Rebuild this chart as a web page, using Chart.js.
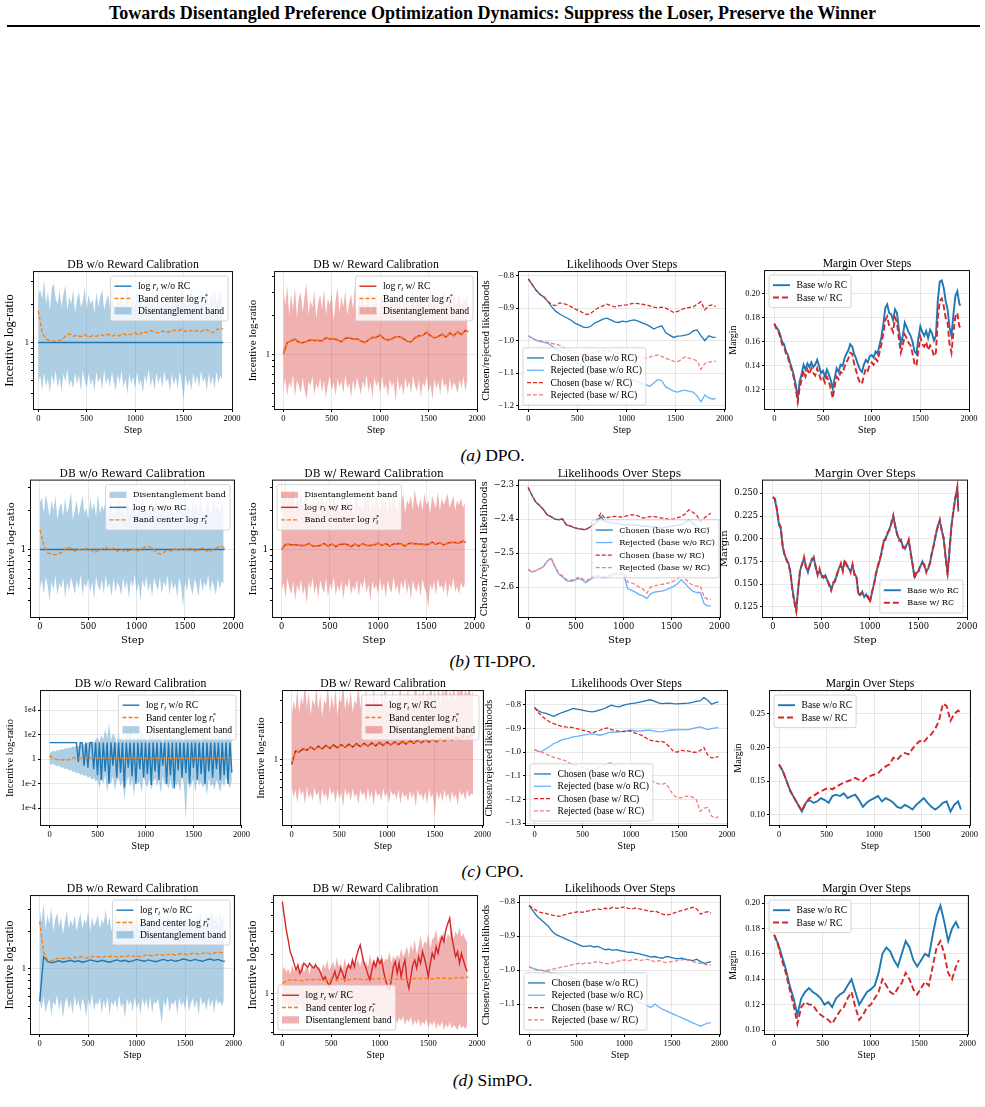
<!DOCTYPE html>
<html>
<head>
<meta charset="utf-8">
<title>Preference optimization dynamics</title>
<script src="https://cdn.jsdelivr.net/npm/chart.js@4.4.1/dist/chart.umd.min.js"></script>
<style>
  html, body { margin: 0; padding: 0; background: #fff; }
  body { position: relative; width: 985px; height: 1107px; overflow: hidden; font-family: "Liberation Serif", "Times New Roman", serif; color: #000; }
  #head { position: absolute; left: 0; top: 2px; width: 985px; text-align: center; font-weight: bold; font-size: 18px; line-height: 22px; }
  #rule { position: absolute; left: 7px; top: 25px; width: 973px; height: 2px; background: #000; }
  .cap { position: absolute; left: 0; width: 985px; text-align: center; font-size: 17.5px; line-height: 20px; }
</style>
</head>
<body>
<div id="head">Towards Disentangled Preference Optimization Dynamics: Suppress the Loser, Preserve the Winner</div>
<div id="rule"></div>
<div class="cap" style="top:445px"><i>(a)</i> DPO.</div>
<div class="cap" style="top:651px"><i>(b)</i> TI-DPO.</div>
<div class="cap" style="top:861px"><i>(c)</i> CPO.</div>
<div class="cap" style="top:1070px"><i>(d)</i> SimPO.</div>
<script>
// ---- step grids and ticks ----
const steps20 = Array.from({ length: 96 }, (_, i) => i * 20);
const steps20e = steps20.concat([1910]);
const steps40 = Array.from({ length: 48 }, (_, i) => i * 40).concat([1910]);
const flatSteps = [0, 1910];
const stepTicks = [0, 500, 1000, 1500, 2000];
const bandTicks = [0.3, 0.4, 0.5, 0.6, 0.7, 0.8, 0.9, 1, 2, 3, 4, 5];
const cpoTicks = [1e-4, 1e-2, 1, 1e2, 1e4];
const cpoTickLabels = ['1e-4', '1e-2', '1', '1e2', '1e4'];

// ---- (a) DPO ----
const a1Up = [2.4,2.6,2.2,3.1,2.0,2.5,1.8,2.7,2.9,2.2, 2.0,2.6,1.9,2.4,2.8,1.8,2.3,2.0,2.6,1.7, 2.2,2.5,1.9,2.1,2.7,1.8,2.4,2.0,2.2,1.7, 2.5,1.9,2.3,2.6,1.8,2.1,2.4,1.9,2.7,2.0, 1.8,2.3,2.0,2.5,1.9,2.2,2.8,1.8,2.1,2.4, 1.9,2.6,2.0,2.2,1.8,2.5,2.0,2.3,1.9,2.6, 2.1,1.8,2.4,2.0,2.7,1.9,2.2,2.5,1.8,2.1, 2.6,2.0,2.3,1.9,2.8,2.1,2.4,1.9,2.2,2.7, 2.0,2.5,1.9,2.3,2.6,2.0,2.2,2.8,1.9,2.4, 2.1,2.6,2.0,2.3,2.5,2.2];
const a1Lo = [0.48,0.55,0.42,0.58,0.45,0.52,0.40,0.56,0.47,0.60, 0.44,0.53,0.41,0.57,0.49,0.62,0.45,0.51,0.43,0.58, 0.47,0.55,0.42,0.60,0.50,0.44,0.57,0.46,0.52,0.41, 0.59,0.48,0.54,0.43,0.61,0.47,0.53,0.45,0.58,0.49, 0.42,0.56,0.48,0.60,0.44,0.52,0.39,0.57,0.47,0.54, 0.43,0.59,0.46,0.51,0.40,0.56,0.48,0.62,0.45,0.53, 0.42,0.58,0.47,0.55,0.44,0.60,0.49,0.52,0.41,0.57, 0.46,0.54,0.43,0.59,0.48,0.35,0.56,0.45,0.52,0.42, 0.58,0.47,0.55,0.44,0.60,0.49,0.53,0.42,0.57,0.46, 0.54,0.43,0.59,0.48,0.55,0.50];
const a1Ctr = [1.78,1.20,1.06,1.04,1.02,1.03,1.05,1.12,1.17,1.12,1.14,1.11,1.15,1.10,1.13,1.12,1.15,1.13,1.16,1.12,1.15,1.13,1.17,1.14,1.16,1.19,1.14,1.22,1.20,1.24,1.21,1.19,1.23,1.20,1.22,1.25,1.23,1.27,1.22,1.25,1.21,1.24,1.22,1.27,1.24,1.19,1.26,1.29,1.28];
const a1Line = [1, 1];
const a2Up = [3.2,2.4,3.4,2.0,2.9,2.2,3.3,1.9,2.7,3.0, 2.1,2.8,3.5,2.0,2.6,2.3,3.1,1.9,2.5,2.9, 2.2,3.2,2.0,2.7,2.4,3.0,1.8,2.6,3.3,2.1, 2.8,2.3,3.1,2.0,2.5,2.9,2.2,3.4,1.9,2.7, 2.4,3.0,2.1,2.6,3.2,2.0,2.8,2.3,3.1,1.9, 2.6,2.9,2.2,3.3,2.0,2.5,3.0,2.1,2.7,2.4, 3.2,1.9,2.8,2.3,3.0,2.1,2.6,3.4,2.0,2.7, 2.4,3.1,2.2,2.9,2.0,2.6,3.3,2.1,2.8,2.3, 3.0,1.9,2.7,3.2,2.2,2.5,2.9,2.0,3.1,2.4, 2.7,3.0,2.2,2.8,2.5,3.1];
const a2Lo = [0.52,0.66,0.48,0.61,0.55,0.70,0.47,0.63,0.58,0.50, 0.67,0.53,0.45,0.62,0.57,0.68,0.49,0.60,0.54,0.66, 0.51,0.63,0.46,0.59,0.68,0.53,0.61,0.48,0.65,0.56, 0.62,0.50,0.69,0.55,0.60,0.47,0.64,0.52,0.67,0.58, 0.49,0.63,0.55,0.70,0.51,0.61,0.46,0.66,0.57,0.62, 0.50,0.68,0.54,0.59,0.47,0.65,0.56,0.61,0.43,0.67, 0.53,0.60,0.48,0.66,0.55,0.62,0.50,0.69,0.57,0.52, 0.64,0.47,0.61,0.56,0.68,0.51,0.59,0.45,0.65,0.54, 0.62,0.49,0.67,0.56,0.60,0.48,0.66,0.53,0.61,0.57, 0.50,0.64,0.55,0.68,0.52,0.63];
const a2Ctr = [1.02,1.22,1.28,1.30,1.25,1.22,1.25,1.30,1.27,1.29,1.26,1.35,1.30,1.33,1.28,1.26,1.32,1.35,1.30,1.33,1.26,1.22,1.30,1.34,1.36,1.40,1.33,1.28,1.32,1.36,1.38,1.31,1.27,1.24,1.35,1.38,1.41,1.47,1.40,1.33,1.38,1.42,1.37,1.45,1.40,1.48,1.43,1.52,1.50];
const a2Line = [1.01,1.23,1.27,1.31,1.24,1.23,1.26,1.29,1.28,1.28,1.27,1.34,1.31,1.32,1.29,1.25,1.33,1.34,1.31,1.32,1.27,1.23,1.29,1.35,1.35,1.41,1.32,1.29,1.31,1.37,1.37,1.32,1.26,1.25,1.34,1.39,1.40,1.48,1.39,1.34,1.37,1.43,1.36,1.46,1.39,1.49,1.42,1.53,1.49];
const a3ChosenNoRC = [-0.810,-0.828,-0.845,-0.858,-0.866,-0.880,-0.896,-0.910,-0.918,-0.925,-0.931,-0.938,-0.947,-0.952,-0.958,-0.960,-0.955,-0.945,-0.940,-0.934,-0.931,-0.936,-0.942,-0.944,-0.940,-0.942,-0.938,-0.936,-0.940,-0.945,-0.950,-0.956,-0.964,-0.958,-0.954,-0.975,-0.983,-0.990,-0.986,-0.985,-0.983,-0.980,-0.970,-0.967,-0.985,-1.000,-0.985,-0.990,-0.990];
const a3RejectedNoRC = [-0.985,-0.992,-0.999,-1.003,-1.005,-1.008,-1.016,-1.027,-1.032,-1.038,-1.044,-1.055,-1.066,-1.072,-1.076,-1.080,-1.084,-1.088,-1.093,-1.100,-1.106,-1.110,-1.114,-1.115,-1.112,-1.111,-1.117,-1.124,-1.128,-1.132,-1.136,-1.140,-1.130,-1.119,-1.123,-1.142,-1.148,-1.155,-1.158,-1.154,-1.152,-1.156,-1.158,-1.170,-1.188,-1.167,-1.176,-1.180,-1.177];
const a3ChosenRC = [-0.810,-0.828,-0.845,-0.858,-0.866,-0.880,-0.889,-0.892,-0.884,-0.886,-0.890,-0.896,-0.903,-0.908,-0.915,-0.920,-0.915,-0.905,-0.898,-0.893,-0.888,-0.892,-0.896,-0.893,-0.891,-0.890,-0.887,-0.885,-0.886,-0.888,-0.890,-0.893,-0.897,-0.899,-0.897,-0.900,-0.906,-0.913,-0.910,-0.905,-0.900,-0.898,-0.896,-0.888,-0.880,-0.905,-0.892,-0.890,-0.895];
const a3RejectedRC = [-0.985,-0.992,-0.998,-1.000,-1.003,-1.005,-1.008,-1.011,-1.014,-1.021,-1.029,-1.033,-1.037,-1.040,-1.042,-1.044,-1.040,-1.036,-1.033,-1.031,-1.029,-1.033,-1.037,-1.040,-1.043,-1.044,-1.046,-1.049,-1.050,-1.052,-1.054,-1.050,-1.046,-1.044,-1.048,-1.054,-1.058,-1.063,-1.065,-1.058,-1.049,-1.054,-1.057,-1.062,-1.088,-1.070,-1.066,-1.064,-1.063];
const a4MarginNoRC = [0.175,0.172,0.170,0.166,0.160,0.158,0.152,0.149,0.143,0.138, 0.132,0.124,0.113,0.127,0.133,0.141,0.137,0.142,0.139,0.143, 0.139,0.141,0.145,0.140,0.134,0.136,0.131,0.137,0.133,0.128, 0.121,0.130,0.138,0.135,0.141,0.140,0.146,0.150,0.153,0.158, 0.156,0.150,0.146,0.141,0.137,0.135,0.141,0.145,0.143,0.148, 0.149,0.147,0.152,0.150,0.157,0.164,0.175,0.188,0.191,0.184, 0.183,0.178,0.187,0.184,0.170,0.158,0.165,0.176,0.172,0.168, 0.165,0.160,0.152,0.150,0.163,0.173,0.168,0.165,0.169,0.163, 0.170,0.167,0.161,0.165,0.195,0.210,0.211,0.205,0.194,0.187, 0.172,0.165,0.183,0.198,0.202,0.192,0.190];
const a4MarginRC = [0.175,0.171,0.169,0.164,0.158,0.156,0.150,0.147,0.141,0.136, 0.130,0.121,0.110,0.122,0.128,0.136,0.131,0.137,0.133,0.138, 0.134,0.132,0.138,0.133,0.128,0.130,0.126,0.131,0.127,0.121, 0.113,0.123,0.131,0.129,0.135,0.134,0.139,0.143,0.146,0.151, 0.150,0.142,0.136,0.130,0.126,0.125,0.132,0.138,0.136,0.141, 0.143,0.141,0.146,0.144,0.151,0.158,0.167,0.178,0.181,0.173, 0.172,0.168,0.180,0.176,0.162,0.151,0.157,0.166,0.163,0.159, 0.157,0.150,0.142,0.140,0.153,0.164,0.158,0.156,0.160,0.153, 0.157,0.154,0.148,0.151,0.180,0.194,0.196,0.190,0.180,0.176, 0.158,0.151,0.168,0.181,0.184,0.173,0.172];

// ---- (b) TI-DPO ----
const b1Up = [2.3,2.5,1.9,2.7,2.2,1.8,2.4,2.0,2.6,1.7, 2.1,2.3,1.8,2.5,1.9,2.2,2.8,1.7,2.0,2.4, 1.8,2.2,2.6,1.9,2.1,1.7,2.5,2.0,2.3,1.8, 2.7,1.9,2.2,2.0,2.4,1.8,2.1,2.5,1.7,2.3, 2.0,2.6,1.9,2.2,1.8,2.4,2.1,1.9,2.5,2.0, 1.8,2.3,2.1,2.7,1.9,2.2,2.0,2.4,1.8,2.1, 2.5,1.9,2.3,2.0,2.6,1.8,2.2,1.9,2.4,2.1, 1.8,2.3,2.0,2.5,1.9,2.8,2.1,2.2,1.8,2.4, 2.0,2.3,1.9,2.6,2.1,1.8,2.2,2.4,1.9,2.1, 2.5,2.0,2.2,1.9,2.3,2.1];
const b1Lo = [0.50,0.58,0.45,0.62,0.52,0.40,0.57,0.48,0.63,0.44, 0.55,0.50,0.60,0.42,0.56,0.47,0.61,0.53,0.45,0.58, 0.49,0.64,0.44,0.55,0.51,0.60,0.46,0.57,0.41,0.62, 0.52,0.48,0.59,0.45,0.63,0.50,0.55,0.43,0.60,0.47, 0.56,0.52,0.44,0.61,0.49,0.57,0.42,0.58,0.51,0.64, 0.46,0.55,0.40,0.59,0.50,0.62,0.47,0.56,0.43,0.60, 0.53,0.48,0.61,0.45,0.57,0.51,0.63,0.44,0.58,0.49, 0.55,0.42,0.60,0.52,0.36,0.57,0.47,0.62,0.50,0.45, 0.59,0.53,0.43,0.61,0.48,0.56,0.51,0.64,0.46,0.58, 0.52,0.44,0.60,0.49,0.57,0.54];
const b1Ctr = [1.42,1.08,0.94,0.92,0.91,0.93,0.96,1.05,1.02,0.97,1.00,0.98,1.02,0.99,0.95,0.97,1.01,1.04,0.99,1.02,0.97,1.00,0.96,0.98,1.01,0.97,0.99,1.04,1.06,1.03,0.96,0.92,0.95,0.99,0.97,1.01,0.98,1.03,0.99,1.02,0.97,1.00,1.03,0.98,0.96,1.01,1.04,1.06,1.02];
const b1Line = [1, 1];
const b2Up = [3.2,2.6,3.4,2.2,2.9,2.4,3.1,2.0,2.7,2.3, 2.8,2.1,2.5,3.0,1.9,2.4,2.2,2.7,2.0,2.5, 2.3,2.9,1.9,2.4,2.1,2.6,2.0,2.8,2.2,2.4, 1.9,2.6,2.3,2.0,2.7,2.2,2.5,1.9,2.4,2.8, 2.1,2.3,2.0,2.6,2.2,2.9,1.9,2.4,2.1,2.5, 2.3,2.0,2.7,2.2,2.4,1.9,2.6,2.1,2.8,2.3, 2.0,2.5,2.2,2.7,1.9,2.4,2.2,2.6,2.0,2.9, 2.3,2.1,2.5,2.0,2.7,2.2,2.4,1.9,2.6,2.3, 2.1,2.8,2.0,2.5,2.2,2.4,2.7,2.1,2.3,2.6, 2.0,2.4,2.2,2.5,2.1,2.3];
const b2Lo = [0.48,0.55,0.42,0.60,0.50,0.45,0.57,0.40,0.53,0.47, 0.59,0.44,0.52,0.38,0.56,0.49,0.61,0.45,0.54,0.42, 0.58,0.50,0.46,0.60,0.43,0.55,0.48,0.62,0.44,0.53, 0.47,0.57,0.41,0.55,0.50,0.60,0.45,0.52,0.48,0.58, 0.43,0.56,0.50,0.61,0.46,0.54,0.40,0.57,0.49,0.53, 0.45,0.60,0.47,0.55,0.42,0.58,0.50,0.46,0.62,0.48, 0.53,0.44,0.57,0.49,0.60,0.45,0.55,0.41,0.58,0.50, 0.47,0.56,0.43,0.59,0.51,0.46,0.35,0.54,0.48,0.57, 0.44,0.60,0.50,0.53,0.46,0.58,0.42,0.55,0.49,0.61, 0.47,0.52,0.45,0.56,0.50,0.54];
const b2Ctr = [1.00,1.08,1.10,1.07,1.09,1.06,1.08,1.10,1.07,1.05,1.08,1.10,1.07,1.09,1.06,1.08,1.11,1.08,1.06,1.09,1.07,1.10,1.08,1.06,1.09,1.11,1.08,1.10,1.07,1.09,1.12,1.09,1.07,1.10,1.12,1.09,1.11,1.08,1.10,1.13,1.10,1.12,1.09,1.11,1.14,1.12,1.13,1.15,1.14];
const b2Line = [1.00,1.09,1.09,1.08,1.08,1.07,1.07,1.11,1.06,1.06,1.07,1.11,1.06,1.10,1.05,1.09,1.10,1.09,1.05,1.10,1.06,1.11,1.07,1.07,1.08,1.12,1.07,1.11,1.06,1.10,1.11,1.10,1.06,1.11,1.11,1.10,1.10,1.09,1.09,1.14,1.09,1.13,1.08,1.12,1.13,1.13,1.12,1.16,1.13];
const b3ChosenNoRC = [-2.307,-2.330,-2.350,-2.360,-2.372,-2.388,-2.393,-2.400,-2.402,-2.400,-2.417,-2.420,-2.425,-2.428,-2.430,-2.431,-2.425,-2.418,-2.410,-2.393,-2.407,-2.409,-2.411,-2.413,-2.415,-2.417,-2.416,-2.418,-2.417,-2.419,-2.422,-2.421,-2.423,-2.422,-2.425,-2.427,-2.424,-2.422,-2.420,-2.418,-2.417,-2.410,-2.402,-2.412,-2.422,-2.431,-2.436,-2.428,-2.422];
const b3RejectedNoRC = [-2.548,-2.556,-2.552,-2.546,-2.540,-2.524,-2.516,-2.540,-2.562,-2.570,-2.582,-2.583,-2.581,-2.575,-2.578,-2.587,-2.580,-2.572,-2.568,-2.570,-2.573,-2.570,-2.566,-2.563,-2.562,-2.563,-2.605,-2.609,-2.615,-2.622,-2.626,-2.634,-2.620,-2.615,-2.613,-2.612,-2.608,-2.603,-2.598,-2.590,-2.578,-2.590,-2.602,-2.612,-2.616,-2.616,-2.650,-2.655,-2.655];
const b3ChosenRC = [-2.307,-2.330,-2.350,-2.360,-2.372,-2.388,-2.393,-2.400,-2.402,-2.400,-2.417,-2.420,-2.425,-2.428,-2.430,-2.431,-2.425,-2.416,-2.400,-2.383,-2.397,-2.395,-2.393,-2.392,-2.394,-2.393,-2.390,-2.388,-2.388,-2.392,-2.397,-2.395,-2.393,-2.393,-2.395,-2.397,-2.399,-2.402,-2.400,-2.396,-2.393,-2.385,-2.373,-2.380,-2.388,-2.407,-2.397,-2.388,-2.383];
const b3RejectedRC = [-2.548,-2.556,-2.552,-2.546,-2.540,-2.524,-2.514,-2.538,-2.560,-2.567,-2.578,-2.580,-2.578,-2.572,-2.574,-2.583,-2.576,-2.568,-2.564,-2.566,-2.569,-2.565,-2.561,-2.558,-2.557,-2.558,-2.585,-2.588,-2.592,-2.600,-2.606,-2.618,-2.600,-2.596,-2.594,-2.592,-2.590,-2.587,-2.583,-2.575,-2.563,-2.575,-2.587,-2.595,-2.597,-2.597,-2.630,-2.636,-2.636];
const b4MarginNoRC = [0.246,0.243,0.232,0.216,0.211,0.191,0.183,0.176,0.173,0.162, 0.145,0.132,0.122,0.145,0.165,0.173,0.178,0.170,0.163,0.172, 0.176,0.180,0.168,0.162,0.165,0.160,0.157,0.160,0.154,0.150, 0.145,0.150,0.155,0.160,0.168,0.171,0.166,0.175,0.172,0.167, 0.165,0.170,0.162,0.158,0.140,0.138,0.142,0.136,0.139,0.135, 0.132,0.140,0.150,0.160,0.170,0.176,0.186,0.196,0.201,0.205, 0.211,0.216,0.224,0.215,0.204,0.200,0.197,0.192,0.189,0.194, 0.197,0.185,0.170,0.158,0.162,0.165,0.170,0.175,0.170,0.165, 0.167,0.175,0.185,0.195,0.205,0.215,0.219,0.210,0.199,0.180, 0.162,0.187,0.215,0.230,0.246,0.255,0.232];
const b4MarginRC = [0.246,0.244,0.233,0.218,0.213,0.193,0.181,0.178,0.171,0.164, 0.143,0.130,0.120,0.147,0.167,0.171,0.180,0.168,0.165,0.170, 0.178,0.178,0.170,0.160,0.167,0.158,0.159,0.158,0.156,0.148, 0.143,0.152,0.153,0.162,0.166,0.173,0.164,0.177,0.170,0.169, 0.163,0.172,0.160,0.160,0.138,0.140,0.140,0.138,0.137,0.137, 0.130,0.142,0.148,0.162,0.168,0.178,0.184,0.198,0.199,0.207, 0.209,0.218,0.226,0.213,0.206,0.198,0.199,0.190,0.191,0.192, 0.199,0.183,0.172,0.156,0.164,0.163,0.172,0.173,0.172,0.163, 0.169,0.173,0.187,0.193,0.207,0.213,0.221,0.208,0.201,0.178, 0.160,0.189,0.213,0.232,0.244,0.257,0.230];

// ---- (c) CPO ----
const c1Up = [3,4,5,4,6,5,7,6,8,7, 9,8,12,10,14,11,16,13,20,15, 25,18,30,22,40, 60,25,90,40,300,50,900,30,120,70, 20,200,45,80,25,150,60,400,35,90, 30,110,50,250,40,70,25,180,55,100, 30,400,45,80,20,130,60,35,220,50, 90,30,150,45,70,25,300,60,40,110, 35,80,200,50,25,120,45,70,30,160, 55,90,40,250,35,75,40,130,60,90,50];
const c1Lo = [0.45,0.35,0.4,0.3,0.25,0.3,0.2,0.22,0.15,0.18, 0.12,0.14,0.09,0.1,0.07,0.08,0.05,0.06,0.04,0.05, 0.03,0.04,0.02,0.03,0.015, 0.02,0.004,0.03,0.01,0.05,0.002,0.02,0.008,0.04,0.003, 0.015,0.03,0.006,0.02,0.0005,0.01,0.04,0.005,0.02,0.001, 0.03,0.008,0.015,0.002,0.04,0.01,0.005,0.025,0.003,0.012, 0.03,0.006,0.02,0.0015,0.04,0.008,0.01,0.004,0.02,0.003, 0.03,0.006,0.015,0.002,0.04,0.008,0.0000121,0.02,0.004,0.01, 0.025,0.002,0.03,0.007,0.015,0.004,0.02,0.001,0.03,0.006, 0.01,0.003,0.02,0.008,0.002,0.015,0.006,0.03,0.01,0.004,0.02];
const c1Ctr = [1.87,1.15,0.92,0.88,0.86,0.88,1.25,1.35,1.30,1.28,1.25,1.27,1.24,1.26,1.22,1.25,1.23,1.21,1.24,1.22,1.20,1.23,1.21,1.19,1.22,1.20,1.18,1.21,1.19,1.22,1.20,1.18,1.21,1.19,1.17,1.20,1.18,1.21,1.19,1.17,1.20,1.22,1.19,1.21,1.23,1.26,1.30,1.35,1.33];
const c1Line = [22.7,22.7,22.7,22.7,22.7,22.7,22.7,22.7,22.7,22.7,22.7,22.7,22.7,22.7, 22.7,0.6,22.7,22.7,0.3,22.7,0.2,22.7,22.7,0.15,22.7, 0.05,22.7,0.02,22.7,0.1,22.7,0.01,22.7,0.3,22.7, 0.03,22.7,0.08,22.7,0.005,22.7,0.2,22.7,0.04,22.7, 0.01,22.7,0.15,22.7,0.03,22.7,0.06,22.7,0.008,22.7, 0.1,22.7,0.02,22.7,0.3,22.7,0.01,22.7,0.05,22.7, 0.004,22.7,0.12,22.7,0.03,22.7,0.07,22.7,0.01,22.7, 0.2,22.7,0.02,22.7,0.06,22.7,0.009,22.7,0.1,22.7, 0.03,22.7,0.15,22.7,0.02,22.7,0.05,22.7,0.01,22.7,0.08];
const c2Up = [2.2,3.0,2.5,3.8,2.4,3.2,2.8,4.2,2.6,3.5, 2.3,3.1,2.7,3.9,2.5,3.4,2.2,3.0,2.8,4.0, 2.4,3.3,2.6,3.7,2.3,3.1,2.9,4.3,2.5,3.2, 2.7,3.6,2.4,3.0,2.8,4.1,2.6,3.4,2.3,3.8, 2.7,3.2,2.5,3.9,2.8,3.3,2.4,3.6,2.9,4.2, 2.6,3.1,2.8,3.7,2.5,3.4,3.0,4.0,2.7,3.5, 2.9,3.8,2.6,3.3,3.1,4.3,2.8,3.6,3.0,3.9, 2.7,3.5,3.2,4.1,2.9,3.6,3.1,3.9,2.8,3.7, 3.3,4.2,3.0,3.6,3.2,4.0,2.9,3.8,3.4,4.3, 3.1,3.7,3.3,4.0,3.2,3.6];
const c2Lo = [0.62,0.50,0.58,0.45,0.60,0.52,0.57,0.44,0.61,0.49, 0.55,0.47,0.60,0.51,0.56,0.43,0.59,0.50,0.54,0.46, 0.61,0.52,0.57,0.45,0.58,0.49,0.55,0.42,0.60,0.51, 0.56,0.47,0.59,0.50,0.54,0.44,0.58,0.52,0.55,0.46, 0.60,0.49,0.56,0.43,0.58,0.51,0.54,0.47,0.59,0.50, 0.55,0.45,0.57,0.52,0.54,0.48,0.58,0.44,0.56,0.50, 0.53,0.46,0.57,0.49,0.55,0.42,0.58,0.51,0.54,0.47, 0.56,0.44,0.59,0.50,0.53,0.35,0.57,0.48,0.55,0.46, 0.58,0.50,0.54,0.45,0.56,0.49,0.53,0.43,0.57,0.51, 0.55,0.47,0.58,0.50,0.54,0.52];
const c2Ctr = [0.95,1.15,1.18,1.20,1.22,1.25,1.23,1.26,1.25,1.28,1.26,1.29,1.27,1.30,1.28,1.31,1.29,1.32,1.30,1.33,1.31,1.34,1.32,1.35,1.33,1.36,1.34,1.37,1.35,1.38,1.36,1.40,1.38,1.41,1.39,1.43,1.41,1.44,1.42,1.46,1.44,1.48,1.46,1.50,1.48,1.53,1.51,1.56,1.58];
const c2Line = [0.92,1.18,1.16,1.23,1.20,1.27,1.21,1.29,1.23,1.31,1.24,1.32,1.25,1.33,1.26,1.34,1.27,1.35,1.28,1.36,1.29,1.37,1.30,1.38,1.31,1.39,1.32,1.40,1.33,1.41,1.34,1.43,1.36,1.44,1.37,1.46,1.39,1.47,1.40,1.49,1.42,1.51,1.44,1.53,1.46,1.56,1.49,1.59,1.60];
const c3ChosenNoRC = [-0.811,-0.825,-0.832,-0.836,-0.842,-0.848,-0.840,-0.833,-0.827,-0.822,-0.815,-0.818,-0.821,-0.824,-0.827,-0.829,-0.826,-0.821,-0.816,-0.808,-0.801,-0.806,-0.808,-0.802,-0.797,-0.794,-0.792,-0.789,-0.786,-0.782,-0.778,-0.783,-0.790,-0.794,-0.793,-0.792,-0.794,-0.795,-0.794,-0.793,-0.792,-0.789,-0.785,-0.783,-0.769,-0.780,-0.797,-0.790,-0.787];
const c3RejectedNoRC = [-0.988,-0.996,-0.995,-0.985,-0.975,-0.963,-0.957,-0.948,-0.943,-0.940,-0.935,-0.933,-0.930,-0.927,-0.924,-0.921,-0.925,-0.928,-0.924,-0.918,-0.914,-0.916,-0.914,-0.911,-0.909,-0.907,-0.909,-0.911,-0.909,-0.907,-0.907,-0.910,-0.913,-0.914,-0.910,-0.907,-0.906,-0.905,-0.904,-0.904,-0.904,-0.900,-0.896,-0.893,-0.898,-0.904,-0.900,-0.897,-0.896];
const c3ChosenRC = [-0.811,-0.832,-0.848,-0.862,-0.872,-0.879,-0.885,-0.891,-0.893,-0.894,-0.896,-0.900,-0.905,-0.909,-0.913,-0.918,-0.912,-0.907,-0.900,-0.897,-0.904,-0.908,-0.912,-0.913,-0.911,-0.910,-0.918,-0.923,-0.930,-0.940,-0.949,-0.952,-0.955,-0.954,-0.960,-0.977,-0.995,-1.000,-0.992,-0.994,-0.995,-1.000,-1.000,-0.993,-0.980,-1.012,-1.024,-1.022,-1.019];
const c3RejectedRC = [-0.991,-0.996,-1.001,-1.008,-1.015,-1.022,-1.026,-1.031,-1.036,-1.045,-1.054,-1.057,-1.060,-1.066,-1.071,-1.075,-1.070,-1.063,-1.055,-1.048,-1.044,-1.058,-1.072,-1.080,-1.087,-1.092,-1.094,-1.096,-1.102,-1.110,-1.117,-1.125,-1.133,-1.137,-1.131,-1.153,-1.180,-1.192,-1.193,-1.188,-1.185,-1.190,-1.200,-1.250,-1.237,-1.233,-1.270,-1.279,-1.272];
const c4MarginNoRC = [0.175,0.165,0.150,0.135,0.125,0.115,0.105,0.118,0.122,0.118,0.120,0.125,0.122,0.118,0.128,0.130,0.128,0.132,0.125,0.128,0.130,0.122,0.112,0.118,0.122,0.125,0.128,0.120,0.125,0.122,0.118,0.112,0.110,0.115,0.112,0.108,0.115,0.120,0.125,0.118,0.112,0.108,0.112,0.118,0.120,0.105,0.115,0.120,0.108];
const c4MarginRC = [0.175,0.165,0.150,0.135,0.125,0.115,0.106,0.118,0.125,0.128,0.132,0.135,0.138,0.140,0.138,0.142,0.145,0.148,0.150,0.152,0.155,0.152,0.150,0.155,0.158,0.160,0.162,0.168,0.172,0.175,0.185,0.182,0.188,0.192,0.190,0.198,0.205,0.210,0.208,0.215,0.220,0.228,0.240,0.265,0.262,0.240,0.250,0.255,0.252];

// ---- (d) SimPO ----
const d1Up = [3.0,2.4,3.3,2.1,2.7,2.3,3.1,2.0,2.5,2.8, 2.2,2.6,1.9,2.4,2.9,2.1,2.5,2.2,2.7,2.0, 2.4,2.8,2.1,2.5,2.3,2.9,2.0,2.6,2.2,2.4, 2.7,2.1,2.5,2.3,3.0,2.2,2.6,2.0,2.4,2.8, 2.2,2.5,2.1,2.7,2.3,2.9,2.0,2.6,2.4,2.2, 2.8,2.1,2.5,2.3,2.7,2.0,2.6,2.4,3.0,2.2, 2.5,2.1,2.8,2.3,2.6,2.2,2.9,2.4,2.1,2.7, 2.3,2.6,2.0,2.8,2.4,2.5,2.2,3.1,2.3,2.6, 2.1,2.7,2.4,2.9,2.2,2.5,2.8,2.3,2.6,3.0, 2.4,2.7,2.2,2.8,2.5,2.6];
const d1Lo = [0.55,0.48,0.60,0.44,0.52,0.58,0.42,0.55,0.50,0.62, 0.46,0.57,0.40,0.53,0.59,0.47,0.55,0.43,0.61,0.50, 0.56,0.45,0.58,0.52,0.41,0.57,0.49,0.63,0.46,0.54, 0.51,0.59,0.44,0.56,0.48,0.60,0.42,0.55,0.50,0.57, 0.46,0.62,0.49,0.53,0.40,0.58,0.51,0.56,0.45,0.60, 0.48,0.54,0.43,0.59,0.50,0.57,0.46,0.61,0.44,0.55, 0.52,0.58,0.47,0.36,0.56,0.49,0.60,0.45,0.54,0.51, 0.57,0.43,0.59,0.50,0.55,0.47,0.62,0.45,0.53,0.58, 0.48,0.56,0.42,0.60,0.51,0.55,0.46,0.59,0.49,0.57, 0.44,0.58,0.52,0.55,0.50,0.56];
const d1Ctr = [2.40,1.35,1.18,1.16,1.20,1.22,1.21,1.23,1.22,1.24,1.23,1.25,1.22,1.24,1.26,1.25,1.23,1.26,1.25,1.27,1.24,1.26,1.25,1.28,1.26,1.27,1.25,1.28,1.30,1.27,1.29,1.31,1.28,1.30,1.32,1.29,1.31,1.33,1.30,1.32,1.34,1.31,1.33,1.35,1.32,1.34,1.36,1.35,1.34];
const d1Line = [0.55,1.25,1.15,1.12,1.14,1.16,1.13,1.15,1.17,1.14,1.16,1.13,1.15,1.18,1.16,1.14,1.17,1.15,1.13,1.16,1.18,1.15,1.17,1.14,1.16,1.19,1.17,1.15,1.18,1.16,1.14,1.17,1.19,1.16,1.18,1.15,1.17,1.20,1.18,1.16,1.19,1.17,1.15,1.18,1.20,1.17,1.19,1.16,1.15];
const d2Up = [1.5,1.6,1.45,1.55,1.4,1.65,1.5,1.45,1.6,1.5, 1.7,1.45,1.55,1.6,1.4,1.65,1.5,1.75,1.55,1.6, 1.45,1.7,1.55,1.8,1.5,1.6,1.75,1.55,1.9,1.6, 1.7,1.5,1.85,1.6,1.75,1.55,1.95,1.65,1.7,1.8, 1.6,1.9,1.7,1.75,1.6,2.0,1.7,1.85,1.65,1.9, 1.75,2.0,1.7,1.85,1.8,2.1,1.7,1.95,1.8,2.0, 1.85,2.2,1.9,2.05,2.3,1.9,2.4,2.1,2.6,2.0, 2.3,2.8,2.2,2.5,2.4,2.9,2.2,2.6,2.7,3.1, 2.4,2.8,2.6,3.0,2.5,2.9,2.7,3.3,2.6,3.0, 2.8,3.2,2.7,2.9,2.6,2.5];
const d2Lo = [0.85,0.78,0.88,0.8,0.75,0.86,0.79,0.82,0.74,0.84, 0.77,0.72,0.83,0.76,0.8,0.7,0.78,0.74,0.81,0.69, 0.76,0.72,0.79,0.68,0.74,0.7,0.77,0.66,0.73,0.69, 0.75,0.65,0.72,0.68,0.74,0.64,0.71,0.67,0.73,0.63, 0.7,0.66,0.72,0.62,0.69,0.65,0.71,0.61,0.68,0.64, 0.7,0.6,0.67,0.63,0.69,0.59,0.66,0.62,0.68,0.58, 0.65,0.61,0.67,0.57,0.63,0.6,0.66,0.56,0.62,0.58, 0.64,0.55,0.61,0.57,0.63,0.54,0.6,0.56,0.62,0.53, 0.59,0.55,0.61,0.52,0.58,0.54,0.6,0.53,0.57,0.55, 0.52,0.58,0.54,0.56,0.53,0.57];
const d2Ctr = [1.19,1.24,1.27,1.27,1.26,1.25,1.27,1.28,1.27,1.28,1.27,1.26,1.27,1.28,1.27,1.29,1.28,1.27,1.28,1.29,1.28,1.27,1.28,1.29,1.28,1.30,1.29,1.28,1.27,1.28,1.29,1.28,1.27,1.28,1.30,1.29,1.31,1.30,1.29,1.30,1.31,1.30,1.31,1.30,1.31,1.32,1.31,1.33,1.33];
const d2Line = [5.07,3.9,3.07,2.57,2.09,1.91,1.70,1.51,1.65,1.42, 1.51,1.70,1.65,1.58,1.70,1.62,1.56,1.65,1.58,1.51, 1.38,1.27,1.34,1.23,1.13,1.23,1.34,1.47,1.27,1.38, 1.56,1.42,1.27,1.51,1.65,1.56,1.80,1.60,1.91,2.15, 2.35,1.97,1.70,1.56,1.38,1.27,1.51,1.75,1.60,1.86, 1.70,1.80,1.47,1.27,1.13,1.06,1.27,1.60,1.75,1.42, 1.70,1.34,1.60,1.80,1.27,1.09,1.34,1.65,1.80,1.56, 1.91,1.70,2.09,1.86,1.60,1.34,1.70,2.03,1.86,2.28, 2.03,2.42,2.73,2.50,3.07,3.45,3.78,2.73,2.28,1.91, 2.09,1.70,2.03,1.80,1.60,1.47];
const d3ChosenNoRC = [-0.81,-0.825,-0.84,-0.85,-0.86,-0.87,-0.885,-0.895,-0.90,-0.905,-0.91,-0.915,-0.92,-0.925,-0.93,-0.93,-0.928,-0.932,-0.93,-0.935,-0.94,-0.938,-0.942,-0.94,-0.943,-0.945,-0.948,-0.947,-0.95,-0.952,-0.955,-0.958,-0.962,-0.96,-0.963,-0.965,-0.96,-0.962,-0.965,-0.967,-0.965,-0.968,-0.97,-0.972,-0.968,-0.975,-0.98,-0.977,-0.975];
const d3RejectedNoRC = [-0.99,-0.995,-1.0,-1.0,-1.002,-1.005,-1.008,-1.01,-1.012,-1.015,-1.018,-1.02,-1.025,-1.03,-1.032,-1.035,-1.04,-1.045,-1.05,-1.055,-1.06,-1.065,-1.07,-1.072,-1.075,-1.078,-1.082,-1.085,-1.09,-1.095,-1.1,-1.105,-1.11,-1.1,-1.108,-1.115,-1.12,-1.125,-1.13,-1.135,-1.14,-1.145,-1.15,-1.155,-1.16,-1.165,-1.16,-1.155,-1.155];
const d3ChosenRC = [-0.81,-0.818,-0.825,-0.83,-0.832,-0.835,-0.838,-0.84,-0.842,-0.838,-0.835,-0.832,-0.83,-0.828,-0.83,-0.827,-0.825,-0.822,-0.82,-0.822,-0.818,-0.82,-0.815,-0.818,-0.816,-0.814,-0.818,-0.82,-0.817,-0.82,-0.822,-0.825,-0.828,-0.826,-0.83,-0.835,-0.838,-0.836,-0.832,-0.828,-0.825,-0.822,-0.818,-0.815,-0.82,-0.835,-0.83,-0.828,-0.832];
const d3RejectedRC = [-0.99,-0.995,-0.998,-1.0,-1.002,-1.0,-0.998,-0.995,-0.993,-0.99,-0.988,-0.985,-0.982,-0.98,-0.982,-0.978,-0.98,-0.977,-0.975,-0.978,-0.98,-0.982,-0.978,-0.975,-0.972,-0.97,-0.973,-0.97,-0.968,-0.972,-0.97,-0.968,-0.972,-0.975,-0.972,-0.975,-0.978,-0.976,-0.974,-0.972,-0.97,-0.968,-0.972,-0.975,-0.978,-0.98,-0.983,-0.985,-0.985];
const d4MarginNoRC = [0.175,0.168,0.158,0.148,0.135,0.125,0.112,0.125,0.13,0.133,0.13,0.128,0.125,0.12,0.122,0.118,0.125,0.128,0.13,0.135,0.14,0.13,0.12,0.125,0.13,0.132,0.135,0.145,0.16,0.165,0.162,0.155,0.15,0.16,0.17,0.165,0.155,0.15,0.155,0.16,0.158,0.175,0.19,0.198,0.185,0.17,0.18,0.185,0.18];
const d4MarginRC = [0.175,0.167,0.155,0.145,0.132,0.12,0.105,0.118,0.122,0.12,0.12,0.115,0.112,0.11,0.108,0.105,0.11,0.115,0.118,0.125,0.13,0.118,0.108,0.112,0.118,0.12,0.125,0.13,0.14,0.135,0.13,0.128,0.133,0.137,0.145,0.14,0.132,0.128,0.133,0.138,0.135,0.15,0.165,0.17,0.16,0.145,0.14,0.15,0.155];

// ---- styling ----
const BLUE = '#1f77b4', ORANGE = '#ff7f0e', RED = '#d62728', LBLUE = '#66b2ff', LRED = '#f08080', DRED = '#b2182b';
const BAND_B = 'rgba(31,119,180,0.36)', BAND_R = 'rgba(214,39,40,0.36)';
const GRID = 'rgba(0,0,0,0.09)';
const CM = { family: '"Liberation Serif", "Times New Roman", serif', title: 11.7, tick: 8.5, label: 10, xh: 27,
  leg: { fs: 9.6, pitch: 12.3, pad: 4, hl: 17, hp: 6.5, axpad: 4 } };
const DV = { family: '"DejaVu Serif", serif', title: 10.5, tick: 8.3, label: 10, xh: 29,
  leg: { fs: 8.1, pitch: 12.5, pad: 4, hl: 17, hp: 6.5, axpad: 4 } };

const pts = (xs, ys) => ys.slice(0, xs.length).map((y, i) => ({ x: xs[i], y }));
function line(label, xs, ys, color, width, dash, order) {
  return { label, data: pts(xs, ys), borderColor: color, backgroundColor: color, borderWidth: width,
    borderDash: dash || [], pointRadius: 0, fill: false, tension: 0, order };
}
function band(label, xs, up, lo, color) {
  return [
    { label, data: pts(xs, up), borderColor: 'rgba(0,0,0,0)', backgroundColor: color, borderWidth: 0, pointRadius: 0, fill: '+1', order: 20, legendPatch: true },
    { label: '', data: pts(xs, lo), borderColor: 'rgba(0,0,0,0)', borderWidth: 0, pointRadius: 0, fill: false, order: 21 }
  ];
}

// rich legend text: ~x italic, _x subscript, ^x superscript
function runs(str) {
  const out = [];
  for (let i = 0; i < str.length; i++) {
    let c = str[i], kind = 'n';
    if (c === '~') { kind = 'i'; c = str[++i]; }
    else if (c === '_') { kind = 'sub'; c = str[++i]; }
    else if (c === '^') { kind = 'sup'; c = str[++i]; }
    out.push({ c, kind });
  }
  return out;
}
function runFont(kind, fs, fam) {
  if (kind === 'i') return `italic ${fs}px ${fam}`;
  if (kind === 'sub') return `italic ${fs * 0.7}px ${fam}`;
  if (kind === 'sup') return `${fs * 0.7}px ${fam}`;
  return `${fs}px ${fam}`;
}
function drawRich(ctx, str, x, y, fs, fam, draw) {
  let cx = x, subStart = null;
  for (const r of runs(str)) {
    ctx.font = runFont(r.kind, fs, fam);
    let dy = 0, px = cx;
    if (r.kind === 'sub') { dy = fs * 0.25; subStart = cx; }
    else if (r.kind === 'sup') { dy = -fs * 0.33; if (subStart !== null) px = subStart; }
    if (draw) ctx.fillText(r.c, px, y + dy);
    const w = ctx.measureText(r.c).width;
    cx = (r.kind === 'sup' && subStart !== null) ? Math.max(cx, px + w) : px + w;
    if (r.kind !== 'sub' && r.kind !== 'sup') subStart = null;
  }
  return cx - x;
}

function drawLegend(chart, L) {
  const { ctx, chartArea: a } = chart;
  const ds = chart.data.datasets;
  const items = L.order.map(i => ds[i]);
  ctx.save();
  ctx.textBaseline = 'middle';
  const tw = Math.max(...items.map(d => drawRich(ctx, d.label, 0, 0, L.fs, L.family, false)));
  const w = L.pad * 2 + L.hl + L.hp + tw, h = L.pad * 2 + items.length * L.pitch;
  let x = (a.left + a.right - w) / 2, y = (a.top + a.bottom - h) / 2;
  if (L.loc.includes('right')) x = a.right - L.axpad - w;
  if (L.loc.includes('left')) x = a.left + L.axpad;
  if (L.loc.includes('upper')) y = a.top + L.axpad;
  if (L.loc.includes('lower')) y = a.bottom - L.axpad - h;
  ctx.beginPath();
  ctx.roundRect(x, y, w, h, 2);
  ctx.fillStyle = 'rgba(255,255,255,0.8)';
  ctx.fill();
  ctx.strokeStyle = '#cccccc';
  ctx.lineWidth = 0.8;
  ctx.stroke();
  items.forEach((d, k) => {
    const cy = y + L.pad + (k + 0.5) * L.pitch;
    const hx = x + L.pad;
    if (d.legendPatch) {
      ctx.fillStyle = d.backgroundColor;
      ctx.fillRect(hx, cy - L.fs * 0.38, L.hl, L.fs * 0.76);
    } else {
      ctx.strokeStyle = d.borderColor;
      ctx.lineWidth = d.borderWidth;
      ctx.setLineDash(d.borderDash || []);
      ctx.beginPath(); ctx.moveTo(hx, cy); ctx.lineTo(hx + L.hl, cy); ctx.stroke();
      ctx.setLineDash([]);
    }
    ctx.fillStyle = '#000';
    drawRich(ctx, d.label, hx + L.hl + L.hp, cy + 0.5, L.fs, L.family, true);
  });
  ctx.restore();
}

Chart.register({
  id: 'mpl',
  afterDatasetsDraw(chart, args, opts) {
    const { ctx, chartArea: a } = chart;
    ctx.save();
    ctx.strokeStyle = '#111';
    ctx.lineWidth = 1;
    ctx.strokeRect(a.left - 0.5, a.top - 0.5, a.right - a.left + 1, a.bottom - a.top + 1);
    ctx.restore();
    if (opts.legend) drawLegend(chart, opts.legend);
  }
});

const minus = s => s.replace('-', '\u2212');
function makeChart(s) {
  const st = s.style;
  const YW = 46, RP = 18, TOPH = st.title * 1.2 + 3;
  const [l, t, r, b] = s.box;
  const xh = s.xh || st.xh;
  const ylab = s.yLabelSize || st.label;
  const W = Math.round(r - l + YW + RP), H = Math.round(b - t + TOPH + xh);
  const cv = document.createElement('canvas');
  cv.width = W; cv.height = H;
  cv.style.cssText = `position:absolute;left:${l - YW}px;top:${t - TOPH}px;width:${W}px;height:${H}px`;
  document.body.appendChild(cv);
  const font = size => ({ family: st.family, size, weight: 'normal' });
  const [ymin, ymax] = s.ylim;
  const inRange = v => v >= ymin && v <= ymax;
  return new Chart(cv, {
    type: 'line',
    data: { datasets: s.datasets },
    options: {
      responsive: false, animation: false, devicePixelRatio: 1,
      layout: { autoPadding: false, padding: { left: 0, right: RP, top: 0, bottom: 0 } },
      plugins: {
        legend: { display: false }, tooltip: { enabled: false },
        title: { display: true, fullSize: false, text: s.title, color: '#000', font: font(st.title), padding: { top: 3, bottom: 0 } },
        mpl: { legend: Object.assign({ family: st.family }, st.leg, s.legend) }
      },
      scales: {
        x: {
          type: 'linear', min: s.xlim[0], max: s.xlim[1],
          afterBuildTicks: sc => { sc.ticks = stepTicks.map(v => ({ value: v })); },
          afterFit: sc => { sc.height = xh; },
          ticks: { color: '#000', font: font(st.tick), padding: 2, maxRotation: 0, autoSkip: false, callback: v => String(v) },
          grid: { color: GRID, tickColor: '#000', tickLength: 3 },
          border: { display: false },
          title: { display: true, text: 'Step', color: '#000', font: font(st.label), padding: { top: 0, bottom: 0 } }
        },
        y: {
          type: s.ylog ? 'logarithmic' : 'linear', min: ymin, max: ymax,
          afterBuildTicks: sc => { sc.ticks = s.yTicks.filter(inRange).map(v => ({ value: v })); },
          afterFit: sc => { sc.width = YW; },
          ticks: { color: '#000', font: font(st.tick), padding: 2, autoSkip: false, callback: s.yLabel },
          grid: { color: c => (s.yMajor(c.tick.value) ? GRID : 'rgba(0,0,0,0)'), tickColor: '#000', tickLength: 3 },
          border: { display: false },
          title: { display: true, text: s.yTitle, color: '#000', font: font(ylab),
            padding: { top: s.yTitleX - (l - YW) - ylab * 0.6, bottom: 0 } }
        }
      }
    }
  });
}

// ---- helpers for the three kinds of panels ----
const bandLabel = v => (v === 1 ? '1' : '');
const isOne = v => v === 1;
const allMajor = () => true;
const fix = n => v => minus(v.toFixed(n));

function bandPanel(o) {
  const col = o.red ? RED : BLUE;
  const ds = [
    line(o.lineLabel, o.lineSteps, o.line, o.lineColor || col, 1.4, [], 6),
    line('Band center log ~r_t^*', steps40, o.ctr, ORANGE, 1.4, [4, 2], 5),
    ...band('Disentanglement band', steps20, o.up, o.lo, o.red ? BAND_R : BAND_B)
  ];
  makeChart({
    style: o.style, box: o.box, title: o.title, yTitle: 'Incentive log-ratio', yTitleX: o.yTitleX, yLabelSize: o.yls,
    xlim: o.xlim || [-90, 2005], ylog: true, ylim: o.ylim,
    yTicks: o.yTicks || bandTicks, yLabel: o.yLabel || bandLabel, yMajor: o.yMajor || isOne,
    datasets: ds, legend: { loc: o.loc, order: o.order || [0, 1, 2] }
  });
}
function likePanel(o) {
  const ds = [
    line('Chosen (base w/o RC)', steps40, o.cw, BLUE, 1.3, [], 4),
    line('Rejected (base w/o RC)', steps40, o.rw, LBLUE, 1.3, [], 3),
    line('Chosen (base w/ RC)', steps40, o.cr, RED, 1.3, [4, 2], 2),
    line('Rejected (base w/ RC)', steps40, o.rr, LRED, 1.3, [4, 2], 1)
  ];
  makeChart({
    style: o.style, box: o.box, title: 'Likelihoods Over Steps', yTitle: 'Chosen/rejected likelihoods', yTitleX: o.yTitleX, yLabelSize: o.yls,
    xlim: o.xlim || [-95, 2005], ylim: o.ylim, yTicks: o.yTicks, yLabel: fix(1), yMajor: allMajor,
    datasets: ds, legend: { loc: o.loc, order: [0, 1, 2, 3], axpad: o.axpad === undefined ? 4 : o.axpad }
  });
}
function marginPanel(o) {
  const xs = o.steps || steps40;
  const ds = [
    line('Base w/o RC', xs, o.bw, BLUE, 1.9, [], 2),
    line('Base w/ RC', xs, o.br, RED, 1.9, [6, 3], 1)
  ];
  makeChart({
    style: o.style, box: o.box, title: 'Margin Over Steps', yTitle: 'Margin', yTitleX: o.yTitleX,
    xlim: o.xlim || [-95, 2005], ylim: o.ylim, yTicks: o.yTicks, yLabel: fix(o.dec), yMajor: allMajor,
    datasets: ds, legend: { loc: o.loc, order: [0, 1] }
  });
}

// ---- row (a) DPO ----
bandPanel({ style: CM, box: [34, 272, 232, 409], title: 'DB w/o Reward Calibration', yTitleX: 10, yls: 12.5, xlim: [-44, 2000],
  ylim: [0.316, 3.58], up: a1Up, lo: a1Lo, ctr: a1Ctr, line: a1Line, lineSteps: flatSteps, lineLabel: 'log ~r_t w/o RC', loc: 'upper right' });
bandPanel({ style: CM, box: [275, 272, 477, 409], title: 'DB w/ Reward Calibration', yTitleX: 253, yls: 11, xlim: [-86, 2000], red: true,
  ylim: [0.38, 4.3], up: a2Up, lo: a2Lo, ctr: a2Ctr, line: a2Line, lineSteps: steps40, lineLabel: 'log ~r_t w/ RC', loc: 'upper right' });
likePanel({ style: CM, box: [519, 272, 725, 409], yTitleX: 486, yls: 10.8, ylim: [-1.21, -0.789], yTicks: [-1.2, -1.1, -1.0, -0.9, -0.8],
  cw: a3ChosenNoRC, rw: a3RejectedNoRC, cr: a3ChosenRC, rr: a3RejectedRC, loc: 'lower left' });
marginPanel({ style: CM, box: [765, 271, 969, 409], yTitleX: 733, ylim: [0.1042, 0.2188], yTicks: [0.12, 0.14, 0.16, 0.18, 0.20], dec: 2,
  steps: steps20e, bw: a4MarginNoRC, br: a4MarginRC, loc: 'upper left', xlim: [-96, 2000] });

// ---- row (b) TI-DPO ----
bandPanel({ style: DV, box: [31, 481, 234, 617], title: 'DB w/o Reward Calibration', yTitleX: 11, xlim: [-93, 2007],
  ylim: [0.307, 3.41], up: b1Up, lo: b1Lo, ctr: b1Ctr, line: b1Line, lineSteps: flatSteps, lineLabel: 'log ~r_t w/o RC', loc: 'upper right', order: [2, 0, 1] });
bandPanel({ style: DV, box: [273, 481, 475, 617], title: 'DB w/ Reward Calibration', yTitleX: 253, red: true,
  ylim: [0.31, 3.4], up: b2Up, lo: b2Lo, ctr: b2Ctr, line: b2Line, lineSteps: steps40, lineLabel: 'log ~r_t w/ RC', loc: 'upper left', order: [2, 0, 1] });
likePanel({ style: DV, box: [519, 481, 720, 617], yTitleX: 484, yls: 9.6, ylim: [-2.688, -2.287], yTicks: [-2.6, -2.5, -2.4, -2.3],
  cw: b3ChosenNoRC, rw: b3RejectedNoRC, cr: b3ChosenRC, rr: b3RejectedRC, loc: 'center right', axpad: 1 });
marginPanel({ style: DV, box: [763, 481, 967, 617], yTitleX: 724, ylim: [0.114, 0.264], yTicks: [0.125, 0.15, 0.175, 0.2, 0.225, 0.25], dec: 3,
  steps: steps20e, bw: b4MarginNoRC, br: b4MarginRC, loc: 'lower right', xlim: [-103, 2000] });

// ---- row (c) CPO ----
bandPanel({ style: CM, box: [41, 691, 240, 825], title: 'DB w/o Reward Calibration', yTitleX: 10, yls: 10.5, xlim: [-89, 1985],
  ylim: [4.2e-6, 3.7e5], yTicks: cpoTicks, yLabel: v => cpoTickLabels[cpoTicks.indexOf(v)] || '', yMajor: allMajor,
  up: c1Up, lo: c1Lo, ctr: c1Ctr, line: c1Line, lineSteps: steps20, lineLabel: 'log ~r_t w/o RC', loc: 'upper right' });
bandPanel({ style: CM, box: [283, 691, 483, 825], title: 'DB w/ Reward Calibration', yTitleX: 261, yls: 11, red: true, lineColor: DRED,
  ylim: [0.33, 3.58], up: c2Up, lo: c2Lo, ctr: c2Ctr, line: c2Line, lineSteps: steps40, lineLabel: 'log ~r_t w/ RC', loc: 'upper right' });
likePanel({ style: CM, box: [526, 691, 727, 825], yTitleX: 489, yls: 10.5, ylim: [-1.308, -0.741], yTicks: [-1.3, -1.2, -1.1, -1.0, -0.9, -0.8],
  cw: c3ChosenNoRC, rw: c3RejectedNoRC, cr: c3ChosenRC, rr: c3RejectedRC, loc: 'lower left', xlim: [-89, 2000] });
marginPanel({ style: CM, box: [770, 691, 970, 825], yTitleX: 738, ylim: [0.085, 0.284], yTicks: [0.10, 0.15, 0.20, 0.25], dec: 2,
  bw: c4MarginNoRC, br: c4MarginRC, loc: 'upper left' });

// ---- row (d) SimPO ----
bandPanel({ style: CM, box: [31, 896, 234, 1034], title: 'DB w/o Reward Calibration', yTitleX: 10, yls: 12,
  ylim: [0.333, 3.84], up: d1Up, lo: d1Lo, ctr: d1Ctr, line: d1Line, lineSteps: steps40, lineLabel: 'log ~r_t w/o RC', loc: 'upper right' });
bandPanel({ style: CM, box: [274, 896, 477, 1034], title: 'DB w/ Reward Calibration', yTitleX: 253, yls: 12, red: true, xlim: [-86, 2000],
  ylim: [0.486, 5.6], up: d2Up, lo: d2Lo, ctr: d2Ctr, line: d2Line, lineSteps: steps20, lineLabel: 'log ~r_t w/ RC', loc: 'lower left' });
likePanel({ style: CM, box: [520, 896, 720, 1034], yTitleX: 486, yls: 10.8, ylim: [-1.188, -0.782], yTicks: [-1.1, -1.0, -0.9, -0.8],
  cw: d3ChosenNoRC, rw: d3RejectedNoRC, cr: d3ChosenRC, rr: d3RejectedRC, loc: 'lower left' });
marginPanel({ style: CM, box: [765, 896, 968, 1034], yTitleX: 733, ylim: [0.0969, 0.2055], yTicks: [0.10, 0.12, 0.14, 0.16, 0.18, 0.20], dec: 2,
  bw: d4MarginNoRC, br: d4MarginRC, loc: 'upper left' });
</script>
</body>
</html>
